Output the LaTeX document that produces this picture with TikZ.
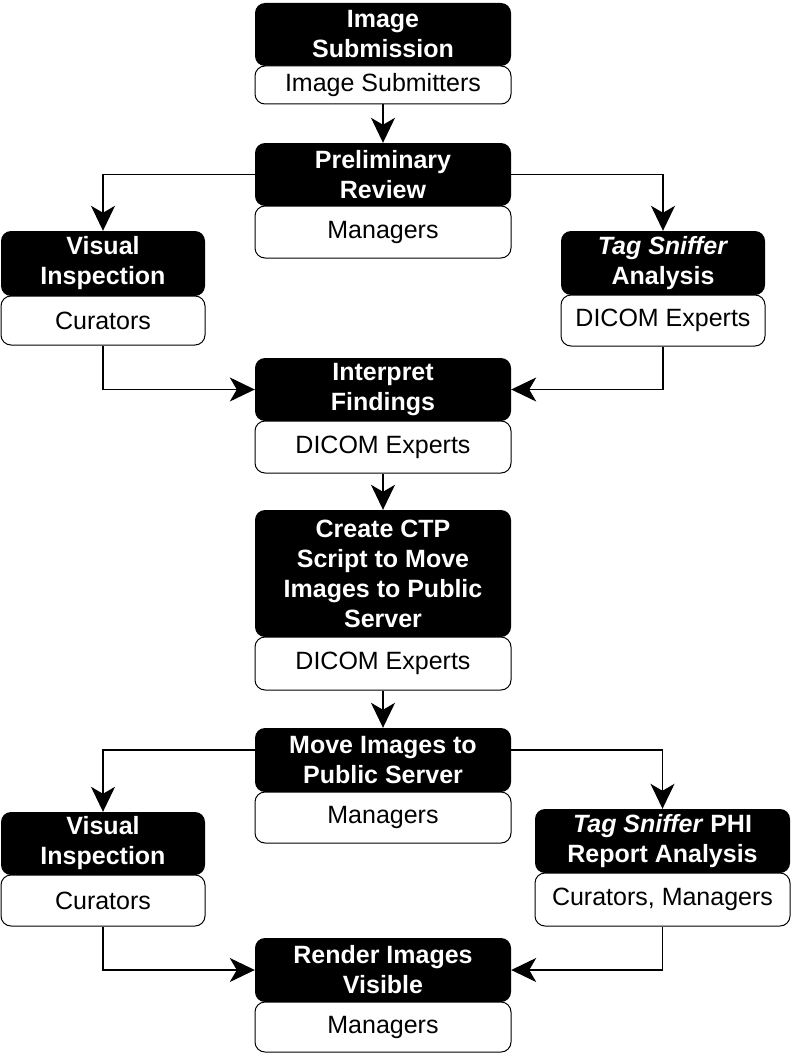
\documentclass[tikz,border=0pt]{standalone}
\usepackage{fontspec}
\setmainfont{Liberation Sans}
\usetikzlibrary{arrows.meta}
\begin{document}
\begin{tikzpicture}[x=1pt,y=1pt,
  >={Stealth[length=25pt,width=24pt,inset=7pt,fill=black]},
  conn/.style={line width=1.3pt,->},
  task/.style={fill=black,text=white,rounded corners=10pt,inner sep=0pt,align=center,
    font=\fontsize{25}{30}\selectfont\bfseries},
  role/.style={draw=black,fill=white,line width=1pt,rounded corners=10pt,inner sep=0pt,align=center,
    font=\fontsize{25}{30}\selectfont}]
\useasboundingbox[fill=white] (0,0) rectangle (791,-1054);
% Image Submission
\node[task,minimum width=256pt,minimum height=63pt] (sub) at (383,-34.5) {Image\\Submission};
\node[role,minimum width=256pt,minimum height=38pt] (subw) at (383,-85) {Image Submitters};
% Preliminary Review
\node[task,minimum width=256pt,minimum height=63pt] (prelim) at (383,-174.5) {Preliminary\\Review};
\node[role,minimum width=256pt,minimum height=52pt] (prelimw) at (383,-232) {Managers};
% Visual Inspection 1
\node[task,minimum width=204pt,minimum height=65pt] (vis1) at (103,-263.5) {Visual\\Inspection};
\node[role,minimum width=204pt,minimum height=49pt] (vis1w) at (103,-320.5) {Curators};
% Tag Sniffer Analysis
\node[task,minimum width=204pt,minimum height=64pt] (tag1) at (663,-263) {\textit{Tag Sniffer}\\Analysis};
\node[role,minimum width=204pt,minimum height=51pt] (tag1w) at (663,-320.5) {DICOM Experts};
% Interpret Findings
\node[task,minimum width=256pt,minimum height=63pt] (interp) at (383,-389.5) {Interpret\\Findings};
\node[role,minimum width=256pt,minimum height=52pt] (interpw) at (383,-447) {DICOM Experts};
% Create CTP Script
\node[task,minimum width=256pt,minimum height=127pt] (ctp) at (383,-573.5) {Create CTP\\Script to Move\\Images to Public\\Server};
\node[role,minimum width=256pt,minimum height=53pt] (ctpw) at (383,-663.5) {DICOM Experts};
% Move Images
\node[task,minimum width=256pt,minimum height=64pt] (move) at (383,-760) {Move Images to\\Public Server};
\node[role,minimum width=256pt,minimum height=51pt] (movew) at (383,-817.5) {Managers};
% Visual Inspection 2
\node[task,minimum width=204pt,minimum height=63pt] (vis2) at (103,-843.5) {Visual\\Inspection};
\node[role,minimum width=204pt,minimum height=51pt] (vis2w) at (103,-900.5) {Curators};
% Tag Sniffer PHI
\node[task,minimum width=255pt,minimum height=64pt] (tag2) at (662.5,-841) {\textit{Tag Sniffer} PHI\\Report Analysis};
\node[role,minimum width=255pt,minimum height=53pt] (tag2w) at (662.5,-899.5) {Curators, Managers};
% Render Images Visible
\node[task,minimum width=256pt,minimum height=64pt] (render) at (383,-970) {Render Images\\Visible};
\node[role,minimum width=256pt,minimum height=50pt] (renderw) at (383,-1027) {Managers};
% connectors
\draw[conn] (subw.south) -- (prelim.north);
\draw[conn] (prelim.west) -| (vis1.north);
\draw[conn] (prelim.east) -| (tag1.north);
\draw[conn] (vis1w.south) |- (interp.west);
\draw[conn] (tag1w.south) |- (interp.east);
\draw[conn] (interpw.south) -- (ctp.north);
\draw[conn] (ctpw.south) -- (move.north);
\draw[conn] ([yshift=10pt]move.west) -| (vis2.north);
\draw[conn] ([yshift=10pt]move.east) -| (tag2.north);
\draw[conn] (vis2w.south) |- (render.west);
\draw[conn] (tag2w.south) |- (render.east);
\end{tikzpicture}
\end{document}
